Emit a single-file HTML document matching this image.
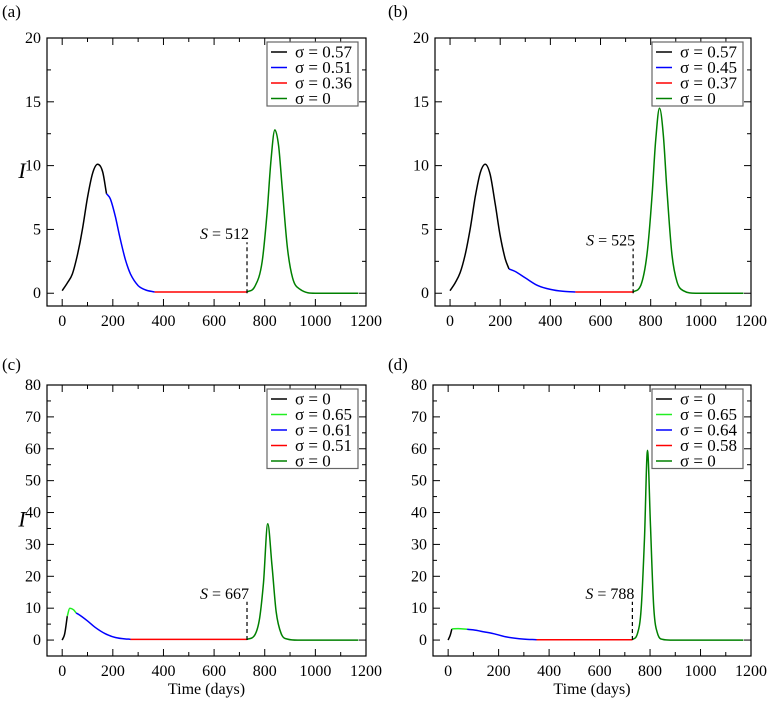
<!DOCTYPE html>
<html><head><meta charset="utf-8"><style>
html,body{margin:0;padding:0;background:#fff;}
svg{display:block;font-family:"Liberation Serif",serif;}
</style></head><body>
<svg id="fig" width="771" height="701" viewBox="0 0 771 701" xmlns="http://www.w3.org/2000/svg"></svg>
<script>
// ---- data ----
const aBlackT=[0,20,40,60,80,100,120,140,160,175];
const aBlackI=[0.2,0.8,1.5,3,5,7.5,9.4,10.1,9.5,7.8];
const aBlueT=[175,190,210,230,250,270,300,330,365];
const aBlueI=[7.8,7.4,6,4.2,2.6,1.5,0.6,0.25,0.1];
const aRedT=[365,730];
const aRedI=[0.1,0.1];
const aGreenT=[730,760,790,810,825,840,855,870,890,910,940,1000,1170];
const aGreenI=[0.1,0.5,2.5,6.5,10.5,12.8,11.5,8,3.5,1.2,0.3,0,0];

const bBlackT=[0,20,40,60,80,100,120,140,160,180,200,220,235];
const bBlackI=[0.2,0.8,1.6,3,5,7.5,9.4,10.1,9.3,7,4.5,2.7,1.9];
const bBlueT=[235,260,300,350,400,450,500];
const bBlueI=[1.9,1.7,1.2,0.6,0.3,0.15,0.1];
const bRedT=[500,730];
const bRedI=[0.1,0.1];
const bGreenT=[730,760,785,805,820,835,850,865,885,905,930,980,1170];
const bGreenI=[0.1,0.6,3,7.5,12,14.5,12.5,8,3,0.9,0.2,0,0];

const cBlackT=[0,10,20];
const cBlackI=[0,2,7.5];
const cLimeT=[20,30,45,55];
const cLimeI=[7.5,10,9.5,8.5];
const cBlueT=[55,70,100,130,170,210,270];
const cBlueI=[8.5,7.8,6,4,2,0.8,0.2];
const cRedT=[270,730];
const cRedI=[0.2,0.2];
const cGreenT=[730,760,780,795,812,828,845,865,890,930,1170];
const cGreenI=[0.2,1.5,7,18,36.5,24,9,2,0.3,0,0];

const dBlackT=[0,8,15];
const dBlackI=[0,1.5,3.5];
const dLimeT=[15,40,75];
const dLimeI=[3.5,3.6,3.4];
const dBlueT=[75,100,140,180,230,300,350];
const dBlueI=[3.4,3.2,2.6,2,1,0.3,0.1];
const dRedT=[350,730];
const dRedI=[0.1,0.1];
const dGreenT=[730,750,765,778,790,802,815,830,850,880,1170];
const dGreenI=[0.1,2,10,32,59.5,35,10,2,0.2,0,0];

const xTicks=[0,200,400,600,800,1000,1200];
const abYTicks=[0,5,10,15,20];
const cdYTicks=[0,10,20,30,40,50,60,70,80];
const legA=["σ = 0.57","σ = 0.51","σ = 0.36","σ = 0"];
const legB=["σ = 0.57","σ = 0.45","σ = 0.37","σ = 0"];
const legC=["σ = 0","σ = 0.65","σ = 0.61","σ = 0.51","σ = 0"];
const legD=["σ = 0","σ = 0.65","σ = 0.64","σ = 0.58","σ = 0"];

const NS="http://www.w3.org/2000/svg";
const svg=document.getElementById('fig');
function mk(tag,attrs,parent){const e=document.createElementNS(NS,tag);for(const k in attrs)e.setAttribute(k,attrs[k]);(parent||svg).appendChild(e);return e;}

function monoPath(xs,ys){
  const n=xs.length;
  if(n<3)return xs.map((x,i)=>(i?'L':'M')+x.toFixed(1)+','+ys[i].toFixed(1)).join('');
  const d=[],m=new Array(n);
  for(let i=0;i<n-1;i++)d.push((ys[i+1]-ys[i])/(xs[i+1]-xs[i]));
  m[0]=d[0];m[n-1]=d[n-2];
  for(let i=1;i<n-1;i++){m[i]=(d[i-1]*d[i]<=0)?0:(d[i-1]+d[i])/2;}
  for(let i=0;i<n-1;i++){
    if(d[i]===0){m[i]=0;m[i+1]=0;continue;}
    const a=m[i]/d[i],b=m[i+1]/d[i],s=a*a+b*b;
    if(s>9){const t=3/Math.sqrt(s);m[i]=t*a*d[i];m[i+1]=t*b*d[i];}
  }
  let p='M'+xs[0].toFixed(1)+','+ys[0].toFixed(1);
  for(let i=0;i<n-1;i++){
    const h=(xs[i+1]-xs[i])/3;
    p+='C'+(xs[i]+h).toFixed(1)+','+(ys[i]+m[i]*h).toFixed(1)+' '+(xs[i+1]-h).toFixed(1)+','+(ys[i+1]-m[i+1]*h).toFixed(1)+' '+xs[i+1].toFixed(1)+','+ys[i+1].toFixed(1);
  }
  return p;
}

function panel(o){
  const g=mk('g',{});
  
  
  const L=o.x0,R=o.x1,T=o.y0,B=o.y1;
  const sx=v=>L+(v-(-60))/(1260)*(R-L);
  const sy=v=>B-(v-o.ymin)/(o.ymax-o.ymin)*(B-T);
  for(let v=0;v<=1200;v+=100){
    const big=v%200===0,len=big?7:4;
    mk('line',{x1:sx(v),x2:sx(v),y1:B,y2:B-len,stroke:'#000','stroke-width':1},g);
    mk('line',{x1:sx(v),x2:sx(v),y1:T,y2:T+len,stroke:'#000','stroke-width':1},g);
  }
  xTicks.forEach(v=>{const t=mk('text',{x:sx(v),y:B+20,'text-anchor':'middle','font-size':16},g);t.textContent=v;});
  for(let v=o.ymin<0?0:o.ymin;v<=o.ymax;v+=o.minor){
    const big=Math.abs(v/o.major-Math.round(v/o.major))<1e-6,len=big?7:4;
    mk('line',{x1:L,x2:L+len,y1:sy(v),y2:sy(v),stroke:'#000','stroke-width':1},g);
    mk('line',{x1:R,x2:R-len,y1:sy(v),y2:sy(v),stroke:'#000','stroke-width':1},g);
  }
  o.yt.forEach(v=>{const t=mk('text',{x:L-6,y:sy(v)+5,'text-anchor':'end','font-size':16},g);t.textContent=v;});
  o.series.forEach(s=>{
    const d=monoPath(s.t.map(sx),s.i.map(sy));
    const p=mk('path',{d:d,fill:'none',stroke:s.c,'stroke-width':1.5,'stroke-linejoin':'round'},g);
    
    
  });
  const dl=mk('line',{x1:sx(730),x2:sx(730),y1:sy(0),y2:sy(o.dash),stroke:'#000','stroke-width':1.2,'stroke-dasharray':'4,3'},g);
  
  
  const st=mk('text',{x:sx(730)+2,y:sy(o.dash)-3,'text-anchor':'end','font-size':16},g);
  st.innerHTML='<tspan font-style="italic">S</tspan> = '+o.S;
  
  
  mk('rect',{x:L,y:T,width:R-L,height:B-T,fill:'none',stroke:'#000','stroke-width':1.2},g);
  const rs=15.5,lw=91,lh=o.leg.length*rs+2,lx=R-lw-8,ly=T+4;
  const lg=mk('g',{},g);
  
  
  mk('rect',{x:lx,y:ly,width:lw,height:lh,fill:'#fff',stroke:'#666','stroke-width':1.2},lg);
  o.leg.forEach((txt,i)=>{
    const yy=ly+10+i*rs;
    mk('line',{x1:lx+4,x2:lx+20,y1:yy,y2:yy,stroke:o.series[i].c,'stroke-width':1.5},lg);
    const t=mk('text',{x:lx+28,y:yy+5.5,'font-size':17},lg);t.textContent=txt;
    
    
  });
  const pl=mk('text',{x:o.lx,y:o.ly,'font-size':17},g);pl.textContent='('+o.id+')';
  
  
  if(o.ylab){const t=mk('text',{x:22,y:(T+B)/2+6,'font-size':22,'font-style':'italic','text-anchor':'middle'},g);t.textContent='I';
    }
  if(o.xlab){const t=mk('text',{x:(L+R)/2,y:B+38,'font-size':16,'text-anchor':'middle'},g);t.textContent='Time (days)';
    }
}
const K='#000',BL='#0000ff',RD='#ff0000',GR='#008000',LM='#22ee22';
panel({id:'a',x0:47,x1:366,y0:38,y1:306,ymin:-1,ymax:20,major:5,minor:2.5,yt:abYTicks,lx:2,ly:17,ylab:true,dash:4,S:512,leg:legA,
  series:[{n:'black',c:K,t:aBlackT,i:aBlackI},{n:'blue',c:BL,t:aBlueT,i:aBlueI},{n:'red',c:RD,t:aRedT,i:aRedI},{n:'green',c:GR,t:aGreenT,i:aGreenI}]});
panel({id:'b',x0:435,x1:751,y0:38,y1:306,ymin:-1,ymax:20,major:5,minor:2.5,yt:abYTicks,lx:388,ly:17,dash:3.5,S:525,leg:legB,
  series:[{n:'black',c:K,t:bBlackT,i:bBlackI},{n:'blue',c:BL,t:bBlueT,i:bBlueI},{n:'red',c:RD,t:bRedT,i:bRedI},{n:'green',c:GR,t:bGreenT,i:bGreenI}]});
panel({id:'c',x0:47,x1:366,y0:385,y1:656,ymin:-5,ymax:80,major:10,minor:5,yt:cdYTicks,lx:2,ly:370,ylab:true,xlab:true,dash:12,S:667,leg:legC,
  series:[{n:'black',c:K,t:cBlackT,i:cBlackI},{n:'lime',c:LM,t:cLimeT,i:cLimeI},{n:'blue',c:BL,t:cBlueT,i:cBlueI},{n:'red',c:RD,t:cRedT,i:cRedI},{n:'green',c:GR,t:cGreenT,i:cGreenI}]});
panel({id:'d',x0:433,x1:751,y0:385,y1:656,ymin:-5,ymax:80,major:10,minor:5,yt:cdYTicks,lx:388,ly:370,xlab:true,dash:12,S:788,leg:legD,
  series:[{n:'black',c:K,t:dBlackT,i:dBlackI},{n:'lime',c:LM,t:dLimeT,i:dLimeI},{n:'blue',c:BL,t:dBlueT,i:dBlueI},{n:'red',c:RD,t:dRedT,i:dRedI},{n:'green',c:GR,t:dGreenT,i:dGreenI}]});
</script>
</body></html>
